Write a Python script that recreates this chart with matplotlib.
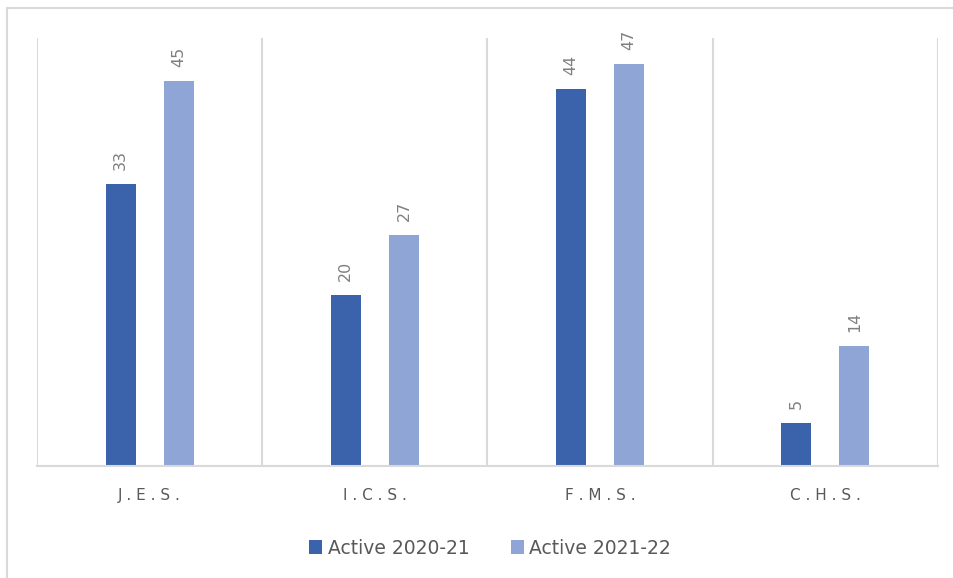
import numpy as np
import matplotlib.pyplot as plt
from matplotlib.patches import Rectangle

schools = ['J.E.S.', 'I.C.S.', 'F.M.S.', 'C.H.S.']
active_2020_21 = [33, 20, 44, 5]
active_2021_22 = [45, 27, 47, 14]

dark = '#3A63AC'
light = '#8FA5D5'
grid = '#D9D9D9'
text_gray = '#595959'

fig = plt.figure(figsize=(9.54, 5.78), dpi=100)
# outer chart border (right and bottom edges fall outside the image)
fig.patches.append(Rectangle((7 / 954, -0.01), 1.0, 1 - 8 / 578 + 0.01,
                             transform=fig.transFigure, fill=False,
                             edgecolor=grid, linewidth=1.5))

ax = fig.add_axes([37 / 954, 112 / 578, 901 / 954, 428 / 578])
x = np.arange(len(schools))
w = 0.133
off = 0.129
b1 = ax.bar(x - off, active_2020_21, w, color=dark, label='Active 2020-21')
b2 = ax.bar(x + off, active_2021_22, w, color=light, label='Active 2021-22')

for bars in (b1, b2):
    for r in bars:
        ax.annotate(str(int(r.get_height())),
                    (r.get_x() + r.get_width() / 2, r.get_height()),
                    xytext=(0, 10), textcoords='offset points',
                    rotation=90, ha='center', va='bottom',
                    fontsize=11.5, color='#7F7F7F')

ax.set_xlim(-0.5, len(schools) - 0.5)
ax.set_ylim(0, 50)
for b in np.arange(-0.5, len(schools), 1.0):
    ax.axvline(b, color=grid, linewidth=1.5, zorder=0)
for s in ['top', 'right', 'left']:
    ax.spines[s].set_visible(False)
ax.spines['bottom'].set_color(grid)
ax.spines['bottom'].set_linewidth(1.5)
ax.set_yticks([])
ax.set_xticks(x)
ax.set_xticklabels([' '.join(s) for s in schools], fontsize=11,
                   color=text_gray)
ax.tick_params(axis='x', length=0, pad=16)

fig.legend(handles=[b1, b2], loc='center', bbox_to_anchor=(490 / 954, 1 - 548 / 578),
           ncol=2, frameon=False, fontsize=13.5, labelcolor=text_gray,
           handlelength=0.7, handleheight=0.7, handletextpad=0.3,
           columnspacing=2.2)

plt.savefig('out.png', dpi=100)
